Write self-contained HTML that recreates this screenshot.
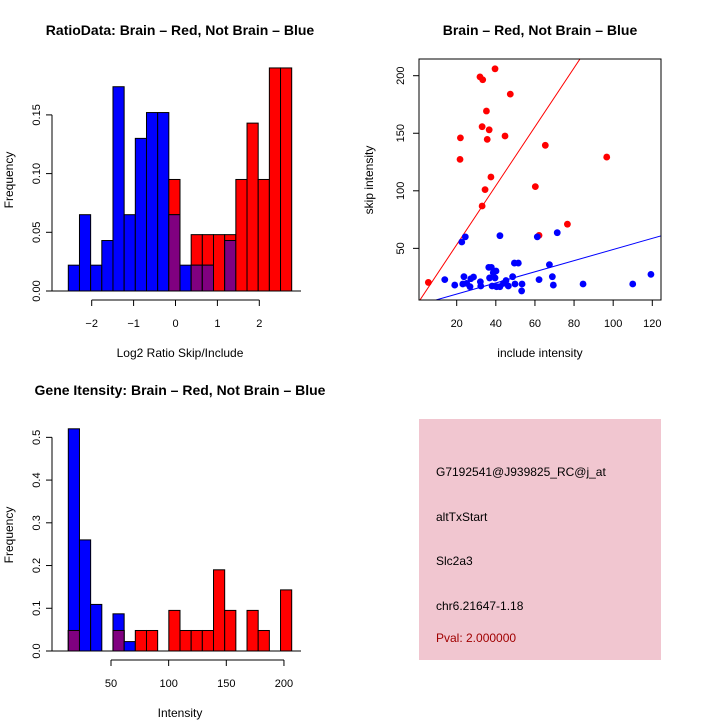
<!DOCTYPE html>
<html><head><meta charset="utf-8"><style>
body{margin:0;background:#fff}
svg{display:block;font-family:"Liberation Sans",sans-serif}
</style></head><body>
<svg id="c" width="720" height="720" viewBox="0 0 720 720">
<rect width="720" height="720" fill="#fff"/>
<text x="180" y="35" text-anchor="middle" font-size="14" font-weight="bold">RatioData: Brain – Red, Not Brain – Blue</text>
<text x="540" y="35" text-anchor="middle" font-size="14" font-weight="bold">Brain – Red, Not Brain – Blue</text>
<text x="180" y="395" text-anchor="middle" font-size="14" font-weight="bold">Gene Itensity: Brain – Red, Not Brain – Blue</text>
<text x="180" y="357" text-anchor="middle" font-size="12">Log2 Ratio Skip/Include</text>
<text transform="translate(13,180) rotate(-90)" text-anchor="middle" font-size="12">Frequency</text>
<text x="540" y="357" text-anchor="middle" font-size="12">include intensity</text>
<text transform="translate(373,180) rotate(-90)" text-anchor="middle" font-size="12">skip intensity</text>
<text x="180" y="717" text-anchor="middle" font-size="12">Intensity</text>
<text transform="translate(13,535) rotate(-90)" text-anchor="middle" font-size="12">Frequency</text>
<g>
<rect x="419" y="419" width="242" height="241" fill="#f1c6d0"/>
<text x="436" y="476" font-size="12">G7192541@J939825_RC@j_at</text>
<text x="436" y="521" font-size="12">altTxStart</text>
<text x="436" y="565" font-size="12">Slc2a3</text>
<text x="436" y="610" font-size="12">chr6.21647-1.18</text>
<text x="436" y="642" font-size="12" fill="#a00000">Pval: 2.000000</text>
</g>
<g id="g1"></g><g id="g2"></g><g id="g3"></g>
</svg>
<script>
// Ratio histogram
const ratioBlue=[0.022,0.065,0.022,0.043,0.174,0.065,0.13,0.152,0.152,0.065,0.022,0.022,0.022,0,0.043,0,0,0,0,0];
const ratioRed=[0,0,0,0,0,0,0,0,0,0.095,0,0.048,0.048,0.048,0.048,0.095,0.143,0.095,0.19,0.19];
const ratioYTicks=[0,0.05,0.10,0.15];
const ratioYLabels=["0.00","0.05","0.10","0.15"];
const ratioXTicks=[-2,-1,0,1,2];
// Intensity histogram
const intBlue=[0.52,0.26,0.109,0,0.087,0.022,0,0,0,0,0,0,0,0,0,0,0,0,0,0];
const intRed=[0.048,0,0,0,0.048,0,0.048,0.048,0,0.095,0.048,0.048,0.048,0.19,0.095,0,0.095,0.048,0,0.143];
const intYTicks=[0,0.1,0.2,0.3,0.4,0.5];
const intYLabels=["0.0","0.1","0.2","0.3","0.4","0.5"];
const intXTicks=[50,100,150,200];
// Scatter
const redX=[5.5,21.7,21.9,31.9,33.3,39.6,47.4,33,35.2,36.6,35.6,44.7,37.5,34.5,33,60.2,65.3,96.7,76.6,62.1];
const redY=[20.4,127.3,146,199,196.5,206,184,155.7,169.3,153,144.7,147.6,112,101,86.8,103.6,139.5,129.3,71,61.3];
const blueX=[24.4,22.6,42.1,61.2,71.4,13.9,19,23.7,23.1,25.1,26.8,28.6,27.2,32.1,32.3,36.4,37.7,36.8,38.7,40.1,39.6,38.1,40.4,42.1,43.9,45.2,46.4,48.6,49.5,51.5,49.8,53.4,53.2,62.1,67.4,68.9,69.4,84.6,110,119.3];
const blueY=[60,55.5,61,60,63.6,22.8,18.1,25.4,19,19.6,16.7,25.1,23.6,21,17.3,33.5,33.5,24.3,28.8,30.3,24.3,17.3,16.7,16.7,19.6,22,17.3,25.4,37.2,37.2,19,19,13,22.8,35.8,25.4,18.1,19,19,27.4];
const redFit=[2,2.56];
const blueFit=[0.6,0.484];
const scXTicks=[20,40,60,80,100,120];
const scYTicks=[50,100,150,200];

const NS="http://www.w3.org/2000/svg";
function mk(p,t,a){const e=document.createElementNS(NS,t);for(const k in a)e.setAttribute(k,a[k]);p.appendChild(e);return e;}

function hist(g,blue,red,x0,bw,base,yscale,yT,yL,xs,xT,xL,axisY,name){
  const y=v=>base-v*yscale;
  for(let i=0;i<blue.length;i++){
    const b=blue[i],r=red[i],x=x0+i*bw;
    if(r>0){const e=mk(g,'rect',{x:x,y:y(r),width:bw,height:r*yscale,fill:'#f00',stroke:'#000','stroke-width':1});
      
      }
    if(b>0){const e=mk(g,'rect',{x:x,y:y(b),width:bw,height:b*yscale,fill:'#00f',stroke:'#000','stroke-width':1});
      
      }
    const m=Math.min(b,r);
    if(m>0){const e=mk(g,'rect',{x:x,y:y(m),width:bw,height:m*yscale,fill:'#800080',stroke:'#000','stroke-width':1});
      
      }
  }
  mk(g,'line',{x1:52,y1:base,x2:301,y2:base,stroke:'#000'});
  mk(g,'line',{x1:52,y1:y(yT[0]),x2:52,y2:y(yT[yT.length-1]),stroke:'#000'});
  yT.forEach((v,i)=>{mk(g,'line',{x1:46,y1:y(v),x2:52,y2:y(v),stroke:'#000'});
    const t=mk(g,'text',{transform:`translate(40,${y(v)}) rotate(-90)`,'text-anchor':'middle','font-size':11});t.textContent=yL[i];
    
    });
  mk(g,'line',{x1:xs(xT[0]),y1:axisY,x2:xs(xT[xT.length-1]),y2:axisY,stroke:'#000'});
  xT.forEach((v,i)=>{mk(g,'line',{x1:xs(v),y1:axisY,x2:xs(v),y2:axisY+6,stroke:'#000'});
    const t=mk(g,'text',{x:xs(v),y:axisY+27,'text-anchor':'middle','font-size':11});t.textContent=xL[i];
    
    });
}
hist(document.getElementById('g1'),ratioBlue,ratioRed,68.3,11.17,291,1174,ratioYTicks,ratioYLabels,
  v=>175.5+v*41.9,ratioXTicks,["−2","−1","0","1","2"],300,'ratio');
hist(document.getElementById('g3'),intBlue,intRed,68.3,11.17,651,427.3,intYTicks,intYLabels,
  v=>111+(v-50)*1.153,intXTicks,["50","100","150","200"],660,'intensity');

// scatter
const g2=document.getElementById('g2');
const sx=v=>456.7+(v-20)*1.956, sy=v=>75.7+(200-v)*1.151;
const clip=mk(g2,'clipPath',{id:'cp'});mk(clip,'rect',{x:419,y:59,width:242,height:241});
function fitLine(f,col,name){const x1=-10,x2=140;const l=mk(g2,'line',{x1:sx(x1),y1:sy(f[0]+f[1]*x1),x2:sx(x2),y2:sy(f[0]+f[1]*x2),stroke:col,'clip-path':'url(#cp)'});
  
  }
fitLine(redFit,'#f00','red-fit-line');
fitLine(blueFit,'#00f','blue-fit-line');
redX.forEach((v,i)=>{const c=mk(g2,'circle',{cx:sx(v),cy:sy(redY[i]),r:3.4,fill:'#f00'});
  
  });
blueX.forEach((v,i)=>{const c=mk(g2,'circle',{cx:sx(v),cy:sy(blueY[i]),r:3.4,fill:'#00f'});
  
  });
mk(g2,'rect',{x:419,y:59,width:242,height:241,fill:'none',stroke:'#000'});
scXTicks.forEach(v=>{mk(g2,'line',{x1:sx(v),y1:300,x2:sx(v),y2:306,stroke:'#000'});
  const t=mk(g2,'text',{x:sx(v),y:327,'text-anchor':'middle','font-size':11});t.textContent=v;
  
  });
scYTicks.forEach(v=>{mk(g2,'line',{x1:413,y1:sy(v),x2:419,y2:sy(v),stroke:'#000'});
  const t=mk(g2,'text',{transform:`translate(404,${sy(v)}) rotate(-90)`,'text-anchor':'middle','font-size':11});t.textContent=v;
  
  });
</script>
</body></html>
